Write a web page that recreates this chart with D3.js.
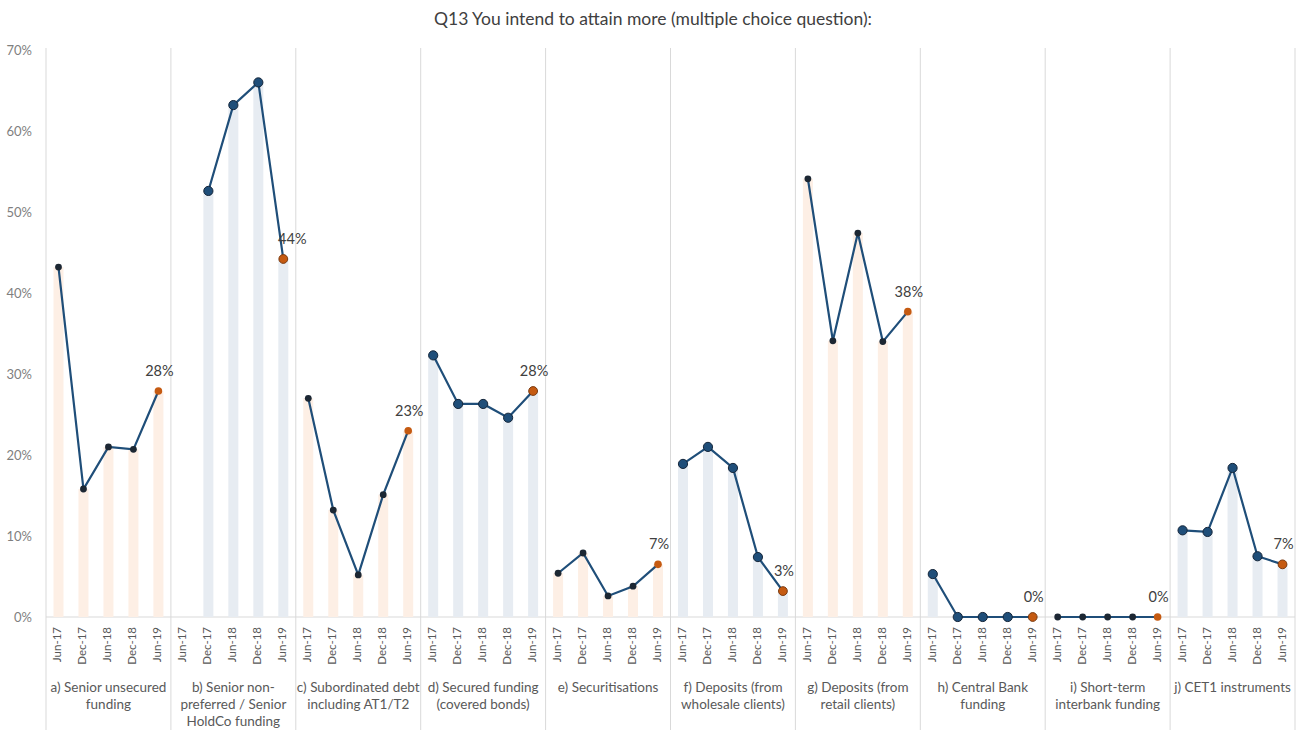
<!DOCTYPE html>
<html>
<head>
<meta charset="utf-8">
<script src="https://cdn.jsdelivr.net/npm/d3@7"></script>
<style>
  html, body { margin: 0; padding: 0; background: #fff; }
  svg { display: block; font-family: Lato, "Open Sans", sans-serif; }
</style>
</head>
<body>
<svg id="chart" width="1303" height="730"></svg>
<script>
const title = "Q13 You intend to attain more (multiple choice question):";
const periods = ["Jun-17", "Dec-17", "Jun-18", "Dec-18", "Jun-19"];
const panelLabels = [
  ["a) Senior unsecured", "funding"],
  ["b) Senior non-", "preferred / Senior", "HoldCo funding"],
  ["c) Subordinated debt", "including AT1/T2"],
  ["d) Secured funding", "(covered bonds)"],
  ["e) Securitisations"],
  ["f) Deposits (from", "wholesale clients)"],
  ["g) Deposits (from", "retail clients)"],
  ["h) Central Bank", "funding"],
  ["i) Short-term", "interbank funding"],
  ["j) CET1 instruments"]
];
const seniorUnsecured   = [0.432, 0.158, 0.210, 0.207, 0.279];
const seniorNonPreferred = [null, 0.526, 0.632, 0.660, 0.442];
const subordinatedDebt  = [0.270, 0.132, 0.052, 0.151, 0.230];
const securedFunding    = [0.323, 0.263, 0.263, 0.246, 0.279];
const securitisations   = [0.054, 0.079, 0.026, 0.038, 0.065];
const depositsWholesale = [0.189, 0.210, 0.184, 0.074, 0.032];
const depositsRetail    = [0.541, 0.341, 0.474, 0.340, 0.377];
const centralBank       = [0.053, 0, 0, 0, 0];
const interbank         = [0, 0, 0, 0, 0];
const cet1              = [0.107, 0.105, 0.184, 0.075, 0.065];
const lastLabels = ["28%", "44%", "23%", "28%", "7%", "3%", "38%", "0%", "0%", "7%"];
const yTicks = [0, 0.1, 0.2, 0.3, 0.4, 0.5, 0.6, 0.7];

const series = [seniorUnsecured, seniorNonPreferred, subordinatedDebt, securedFunding,
  securitisations, depositsWholesale, depositsRetail, centralBank, interbank, cet1];
const panels = series.map((vals, i) => ({
  id: "p" + i, idx: i, label: panelLabels[i], last: lastLabels[i],
  points: vals.map((v, j) => ({ period: periods[j], value: v, j }))
}));

const svg = d3.select("#chart");
const mLeft = 46, mRight = 1295, mTop = 50, mBottom = 617;

const x0 = d3.scaleBand().domain(panels.map(p => p.id)).range([mLeft, mRight]).padding(0);
const x1 = d3.scaleBand().domain(periods).range([0, x0.bandwidth()]).padding(0);
const y = d3.scaleLinear().domain([0, 0.7]).range([mBottom, mTop]);

// title
svg.append("text").attr("x", 653).attr("y", 25).attr("text-anchor", "middle")
  .attr("font-size", 17.5).attr("fill", "#404040").text(title);

// y axis labels
const yAxis = d3.axisLeft(y).tickValues(yTicks).tickFormat(d3.format(".0%")).tickSize(0).tickPadding(14);
const ya = svg.append("g").attr("transform", `translate(${mLeft},0)`).call(yAxis);
ya.select(".domain").remove();
ya.selectAll("text").attr("font-size", 13).attr("fill", "#7f7f7f").attr("font-family", "Lato, sans-serif");

// panel separators
const seps = x0.domain().map(d => x0(d)).concat([mRight]);
svg.append("g").selectAll("line").data(seps).join("line")
  .attr("x1", d => d).attr("x2", d => d).attr("y1", mTop - 2).attr("y2", 730)
  .attr("stroke", "#d9d9d9").attr("stroke-width", 1);

// baseline
svg.append("line").attr("x1", mLeft).attr("x2", mRight).attr("y1", y(0)).attr("y2", y(0))
  .attr("stroke", "#d9d9d9").attr("stroke-width", 1);

const line = d3.line().defined(d => d.value != null)
  .x(d => d.cx).y(d => y(d.value));

panels.forEach(p => {
  const g = svg.append("g").attr("transform", `translate(${x0(p.id)},0)`);
  const even = p.idx % 2 === 1; // b, d, f, h, j
  const barColor = even ? "#e7ecf2" : "#fdefe5";
  const bw = 10;
  p.points.forEach(d => d.cx = x1(d.period) + x1.bandwidth() / 2);
  const pts = p.points.filter(d => d.value != null);

  g.selectAll("rect.bar").data(pts).join("rect").attr("class", "bar")
    .attr("x", d => d.cx - bw / 2).attr("width", bw)
    .attr("y", d => y(d.value)).attr("height", d => y(0) - y(d.value))
    .attr("fill", barColor);

  g.append("path").datum(p.points).attr("d", line)
    .attr("fill", "none").attr("stroke", "#1f4e79").attr("stroke-width", 2.2);

  const r = even ? 4.6 : 3.4;
  g.selectAll("circle").data(pts).join("circle")
    .attr("cx", d => d.cx).attr("cy", d => y(d.value))
    .attr("r", d => d.j === 4 ? (even ? 4.4 : 3.8) : r)
    .attr("fill", d => d.j === 4 ? "#c55a11" : (even ? "#1f4e79" : "#1c2733"))
    .attr("stroke", d => d.j === 4 ? (even ? "#7a3a10" : "none") : (even ? "#15263a" : "none"))
    .attr("stroke-width", 1);

  const lastPt = p.points[4];
  const dx = p.idx === 1 ? 9 : 1;
  g.append("text").attr("x", lastPt.cx + dx).attr("y", y(lastPt.value) - 15)
    .attr("text-anchor", "middle").attr("font-size", 14.5).attr("fill", "#404040")
    .text(p.last);

  // period tick labels
  g.selectAll("text.tick").data(p.points).join("text").attr("class", "tick")
    .attr("transform", d => `translate(${d.cx + 3},${y(0) + 10}) rotate(-90)`)
    .attr("text-anchor", "end").attr("font-size", 11.5).attr("fill", "#595959")
    .text(d => d.period);

  // category label
  const t = g.append("text").attr("text-anchor", "middle").attr("font-size", 13.5)
    .attr("fill", "#595959");
  p.label.forEach((ln, k) => {
    t.append("tspan").attr("x", x0.bandwidth() / 2).attr("y", 692 + k * 17).text(ln);
  });
});
</script>
</body>
</html>
